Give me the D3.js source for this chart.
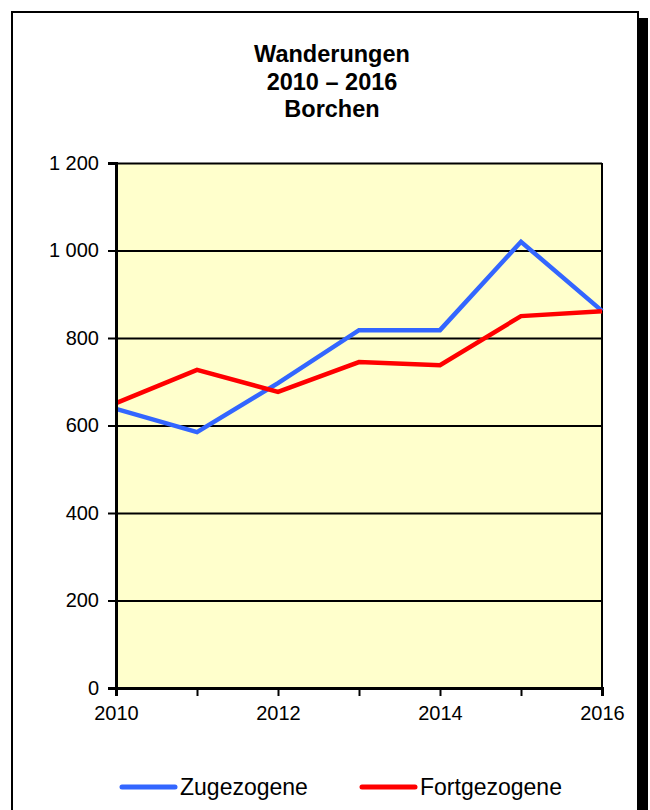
<!DOCTYPE html>
<head>
<meta charset="utf-8">
<script src="https://d3js.org/d3.v7.min.js"></script>
<style>
body {
	margin: 0;
	background: #fff;
}
svg text {
	font-family: "Liberation Sans", Arial, sans-serif;
}
.grid line {
	stroke: #000;
	stroke-width: 2px;
}
.grid path {
	display: none;
}
.line {
	fill: none;
	stroke-width: 4.5px;
	stroke-linejoin: miter;
}
</style>
</head>
<body>
<svg id="chart" width="650" height="810"></svg>

<script>

var years = [2010, 2011, 2012, 2013, 2014, 2015, 2016];
var zugezogene = [638, 585, 697, 818, 818, 1020, 862];
var fortgezogene = [651, 727, 677, 745, 738, 850, 861];
var yTicks = [0, 200, 400, 600, 800, 1000, 1200];
var xLabelYears = [2010, 2012, 2014, 2016];
var titleLines = ["Wanderungen", "2010 \u2013 2016", "Borchen"];

var series = [
	{name: "Zugezogene", color: "#3366ff", values: zugezogene},
	{name: "Fortgezogene", color: "#ff0000", values: fortgezogene}
];

var svg = d3.select("#chart"),
	margin = {top: 163, right: 48, bottom: 122, left: 116},
	width = +svg.attr("width") - margin.left - margin.right,
	height = +svg.attr("height") - margin.top - margin.bottom;

// frame + shadow
svg.append("rect")
	.attr("x", 639).attr("y", 18)
	.attr("width", 9).attr("height", 820)
	.attr("fill", "#000");
svg.append("rect")
	.attr("x", 12).attr("y", 12)
	.attr("width", 626).attr("height", 820)
	.attr("fill", "#fff")
	.attr("stroke", "#000")
	.attr("stroke-width", 2);

// title
svg.append("g").selectAll("text")
	.data(titleLines)
	.join("text")
	.attr("x", 332)
	.attr("y", (d, i) => 62 + i * 27.5)
	.attr("text-anchor", "middle")
	.attr("font-size", 23.5)
	.attr("font-weight", "bold")
	.text(d => d);

var g = svg.append("g")
	.attr("transform", "translate(" + margin.left + "," + margin.top + ")");

var x = d3.scaleLinear()
	.domain([2010, 2016])
	.range([0, width]);

var y = d3.scaleLinear()
	.domain([0, 1200])
	.range([height, 0]);

g.append("rect")
	.attr("width", width)
	.attr("height", height)
	.attr("fill", "#ffffcc");

// gridlines
g.append("g")
	.attr("class", "grid")
	.call(d3.axisLeft(y).tickValues(yTicks).tickSize(-width).tickFormat(""));

// right border of plot area
g.append("line")
	.attr("x1", width).attr("x2", width)
	.attr("y1", 0).attr("y2", height)
	.attr("stroke", "#000").attr("stroke-width", 2);

var line = d3.line()
	.x((d, i) => x(years[i]))
	.y(d => y(d));

g.selectAll(".line")
	.data(series)
	.join("path")
	.attr("class", "line")
	.attr("stroke", d => d.color)
	.attr("d", d => line(d.values));

// y axis
var yAxis = g.append("g")
	.call(d3.axisLeft(y).tickValues(yTicks).tickSize(8).tickPadding(9)
		.tickFormat(d => d3.format(",")(d).replace(",", " ")));
yAxis.select(".domain").attr("stroke-width", 3);
yAxis.selectAll(".tick line").attr("stroke-width", 2);
yAxis.selectAll("text").attr("font-size", 20).attr("fill", "#000")
	.attr("font-family", "Liberation Sans, Arial, sans-serif");

// x axis
var xAxis = g.append("g")
	.attr("transform", "translate(0," + height + ")")
	.call(d3.axisBottom(x).tickValues(years).tickSize(8).tickPadding(10)
		.tickFormat(d => xLabelYears.includes(d) ? d : ""));
xAxis.select(".domain").attr("stroke-width", 3);
xAxis.selectAll(".tick line").attr("stroke-width", 2);
xAxis.selectAll("text").attr("font-size", 20).attr("fill", "#000")
	.attr("font-family", "Liberation Sans, Arial, sans-serif");

// legend
var legend = svg.append("g")
	.selectAll("g")
	.data(series)
	.join("g")
	.attr("transform", (d, i) => "translate(" + (122 + i * 240) + ",787)");

legend.append("line")
	.attr("x1", 0).attr("x2", 53)
	.attr("stroke", d => d.color)
	.attr("stroke-width", 5)
	.attr("stroke-linecap", "round");

legend.append("text")
	.attr("x", 58)
	.attr("y", 8)
	.attr("font-size", 23)
	.text(d => d.name);

</script>
</body>
